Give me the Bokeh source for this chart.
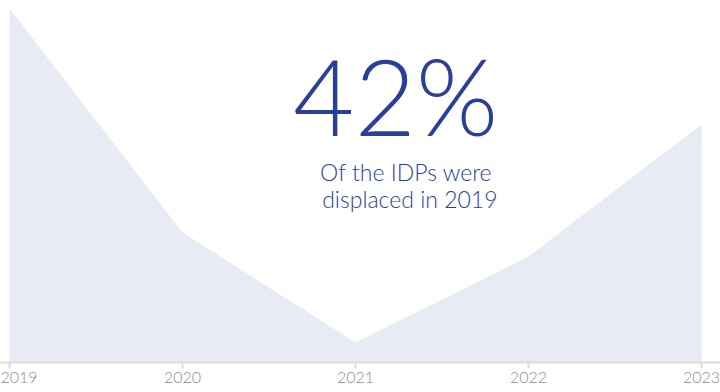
from bokeh.plotting import figure
from bokeh.models import Range1d, Label, FixedTicker
from bokeh.embed import file_html
from bokeh.resources import INLINE

years = [2019, 2020, 2021, 2022, 2023]
values = [354, 130, 20, 106, 238]
tick_labels = ["2019", "2020", "2021", "2022", "2023"]
headline = "42%"
sub_line1 = "Of the IDPs were"
sub_line2 = "displaced in 2019"

AREA = "#e8eaf4"
BLUE = "#2b3f97"
FONT = "Lato Light, Lato"

p = figure(width=720, height=392, frame_width=720, frame_height=362,
           output_backend="svg", toolbar_location=None, min_border=0,
           x_range=Range1d(2018.948, 2023.11), y_range=Range1d(0, 362))
p.outline_line_color = None
p.background_fill_color = "white"
p.border_fill_color = "white"
p.grid.visible = False
p.yaxis.visible = False

p.varea(x=years, y1=[0] * len(years), y2=values, fill_color=AREA)

ax = p.xaxis[0]
ax.ticker = FixedTicker(ticks=years)
ax.major_label_overrides = {y: l for y, l in zip(years, tick_labels)}
ax.axis_line_color = "#dcdcdc"
ax.axis_line_width = 2
ax.major_tick_line_color = "#dcdcdc"
ax.major_tick_line_width = 2
ax.major_tick_out = 6
ax.major_tick_in = 0
ax.minor_tick_line_color = None
ax.major_label_standoff = 3
ax.major_label_text_font = FONT
ax.major_label_text_font_size = "16px"
ax.major_label_text_color = "#8c8c8c"

p.add_layout(Label(x=498, y=268, x_units="screen", y_units="screen", text=headline,
                   text_font=FONT, text_font_size="106px", text_color=BLUE,
                   text_align="right", text_baseline="alphabetic"))
p.add_layout(Label(x=492, y=191, x_units="screen", y_units="screen", text=sub_line1,
                   text_font=FONT, text_font_size="23px", text_color=BLUE,
                   text_align="right", text_baseline="alphabetic"))
p.add_layout(Label(x=497, y=164, x_units="screen", y_units="screen", text=sub_line2,
                   text_font=FONT, text_font_size="23px", text_color=BLUE,
                   text_align="right", text_baseline="alphabetic"))

open("out.html", "w").write(file_html(p, INLINE))
